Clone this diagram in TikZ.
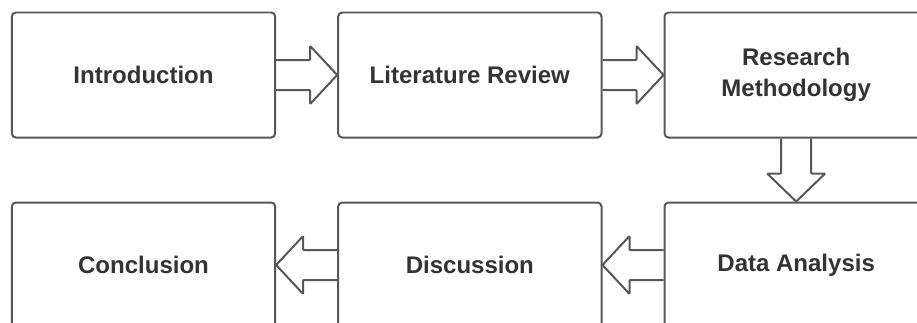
\documentclass[tikz,border=0pt]{standalone}
\usepackage{fontspec}
\setmainfont{Liberation Sans}
\usetikzlibrary{positioning}

\definecolor{edgegray}{HTML}{575757}
\definecolor{textgray}{HTML}{333333}

\begin{document}
\begin{tikzpicture}[x=0.03cm, y=-0.03cm,
    font=\fontsize{20.5}{27}\selectfont\bfseries,
    stage/.style={draw=edgegray, line width=1.7pt, rounded corners=0.12cm,
      text=textgray, align=center, minimum width=7.9cm, minimum height=3.75cm},
    blockarr/.style={draw=edgegray, line width=1.7pt, rounded corners=0.6pt,
      line join=round},
    node distance=1.83cm]
  \useasboundingbox (0,0) rectangle (917,322); % Frame of the picture
  \clip (0,0) rectangle (917,322);

  % Top row (left to right)
  \node[stage] (intro) at (143.5,75) {Introduction};
  \node[stage, right=of intro] (lit) {Literature Review};
  \node[stage, right=of lit] (res) {Research\\Methodology};

  % Bottom row (right to left)
  \node[stage, below=1.89cm of res] (data) {Data Analysis};
  \node[stage, left=of data] (disc) {Discussion};
  \node[stage, left=of disc] (concl) {Conclusion};

  % Block arrows
  \draw[blockarr] (intro.east) ++(0,-15) -- ++(34,0) -- ++(0,-14) -- (lit.west)
    -- ++(-27,29) -- ++(0,-14) -- ++(-34,0);
  \draw[blockarr] (lit.east) ++(0,-15) -- ++(34,0) -- ++(0,-14) -- (res.west)
    -- ++(-27,29) -- ++(0,-14) -- ++(-34,0);
  \draw[blockarr] (res.south) ++(-15,0) -- ++(0,35) -- ++(-14,0) -- (data.north)
    -- ++(29,-28) -- ++(-14,0) -- ++(0,-35);
  \draw[blockarr] (data.west) ++(0,-15) -- ++(-34,0) -- ++(0,-14) -- (disc.east)
    -- ++(27,29) -- ++(0,-14) -- ++(34,0);
  \draw[blockarr] (disc.west) ++(0,-15) -- ++(-34,0) -- ++(0,-14) -- (concl.east)
    -- ++(27,29) -- ++(0,-14) -- ++(34,0);

\end{tikzpicture}
\end{document}
